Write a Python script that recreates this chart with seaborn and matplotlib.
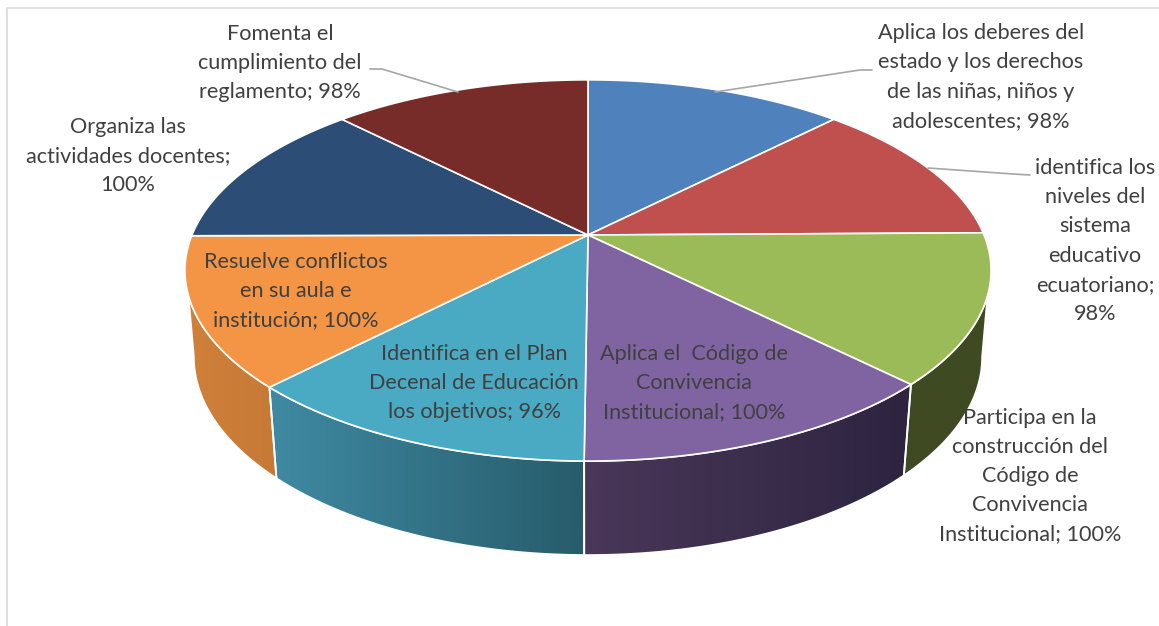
import numpy as np
import matplotlib
matplotlib.use("Agg")
import matplotlib.pyplot as plt
from matplotlib.patches import Polygon
import seaborn as sns

sns.set_theme(style="white")
plt.rcParams["font.family"] = ["Lato", "DejaVu Sans"]

# Share reported for each competence, clockwise from twelve o'clock
values = [98, 98, 100, 100, 96, 100, 100, 98]
label_templates = [
    "Aplica los deberes del\nestado y los derechos\nde las niñas, niños y\nadolescentes; {}%",
    "identifica los\nniveles del\nsistema\neducativo\necuatoriano;\n{}%",
    "Participa en la\nconstrucción del\nCódigo de\nConvivencia\nInstitucional; {}%",
    "Aplica el  Código de\nConvivencia\nInstitucional; {}%",
    "Identifica en el Plan\nDecenal de Educación\nlos objetivos; {}%",
    "Resuelve conflictos\nen su aula e\ninstitución; {}%",
    "Organiza las\nactividades docentes;\n{}%",
    "Fomenta el\ncumplimiento del\nreglamento; {}%",
]
label_xy = [(981, 77), (1095, 241), (1030, 476), (694, 383),
            (474, 383), (296, 291), (128, 156), (280, 63)]

top_colors = sns.color_palette(["#4f81bd", "#c0504d", "#9bbb59", "#8064a2",
                                "#4aa9c3", "#f49445", "#2c4d75", "#772c2a"])
side_ramps = {
    2: ("#3e4a22", "#3e4a22"),
    3: ("#4a3759", "#2d2440"),
    4: ("#3f8aa3", "#275c6b"),
    5: ("#d08039", "#c67a36"),
}

# Perspective disc: pivot, radii, foreshortening, and the extruded rim
CX, CY, RX, RY, K = 588, 235, 396, 184, 0.186
DROP, RIM_X_SCALE, RIM_Y_SCALE = 85, 0.978, 1.04
# Angles where the rims leave the visible outline of the solid
TOP_LIMITS = (-162, -18)
BOTTOM_LIMITS = (-169.3, -10.7)


def rim(theta_deg, x_scale=1.0, y_scale=1.0, drop=0.0):
    t = np.radians(theta_deg)
    denom = 1 + K * np.sin(t)
    x = CX + x_scale * RX * np.cos(t) / denom
    y = CY + drop - y_scale * RY * np.sin(t) / denom
    return np.column_stack([x, y])


edges = 90 - np.concatenate([[0], np.cumsum(values)]) / np.sum(values) * 360

fig = plt.figure(figsize=(11.59, 6.26), dpi=100, facecolor="white")
ax = fig.add_axes([0, 0, 1, 1])

# Thin chart frame, open on the right and bottom
ax.plot([6.5, 6.5, 1159], [626, 7.5, 7.5], color="#d9d9d9", lw=1.2, zorder=1)

# Extruded side faces with a horizontal shade ramp
for i in [5, 4, 3, 2]:
    start, end = edges[i + 1], edges[i]
    top_a, top_b = max(start, TOP_LIMITS[0]), min(end, TOP_LIMITS[1])
    bot_a, bot_b = max(start, BOTTOM_LIMITS[0]), min(end, BOTTOM_LIMITS[1])
    upper = rim(np.linspace(top_a, top_b, 80))
    lower = rim(np.linspace(bot_b, bot_a, 80), RIM_X_SCALE, RIM_Y_SCALE, DROP)
    outline = np.vstack([upper, lower])
    cmap = sns.blend_palette(side_ramps[i], as_cmap=True)
    x0, x1 = outline[:, 0].min(), outline[:, 0].max()
    y0, y1 = outline[:, 1].min(), outline[:, 1].max()
    shade = ax.imshow(np.linspace(0, 1, 256)[None, :], cmap=cmap, aspect="auto",
                      extent=(x0, x1, y1, y0), zorder=2, interpolation="bilinear")
    face = Polygon(outline, closed=True, facecolor="none", edgecolor="white",
                   lw=1.3, zorder=3, joinstyle="round")
    ax.add_patch(face)
    shade.set_clip_path(face)

# Top face of the disc
for i, color in enumerate(top_colors):
    arc = rim(np.linspace(edges[i], edges[i + 1], 120))
    wedge = np.vstack([[CX, CY], arc])
    ax.fill(wedge[:, 0], wedge[:, 1], facecolor=color, edgecolor="white",
            lw=1.2, joinstyle="round", zorder=4)

# Leader lines for the labels outside the disc
leaders = [
    ([872, 860, 715], [70, 70, 92]),
    ([1030, 1013, 928], [175, 174, 168]),
    ([370, 382, 458], [69, 69, 92]),
]
for xs, ys in leaders:
    ax.plot(xs, ys, color="#a6a6a6", lw=1.2, zorder=5)

for template, value, (x, y) in zip(label_templates, values, label_xy):
    ax.text(x, y, template.format(value), ha="center", va="center",
            multialignment="center", fontsize=15.6, color="#404040",
            linespacing=1.57, zorder=6)

ax.set_xlim(0, 1159)
ax.set_ylim(626, 0)
ax.axis("off")

fig.savefig("out.png", dpi=100)
